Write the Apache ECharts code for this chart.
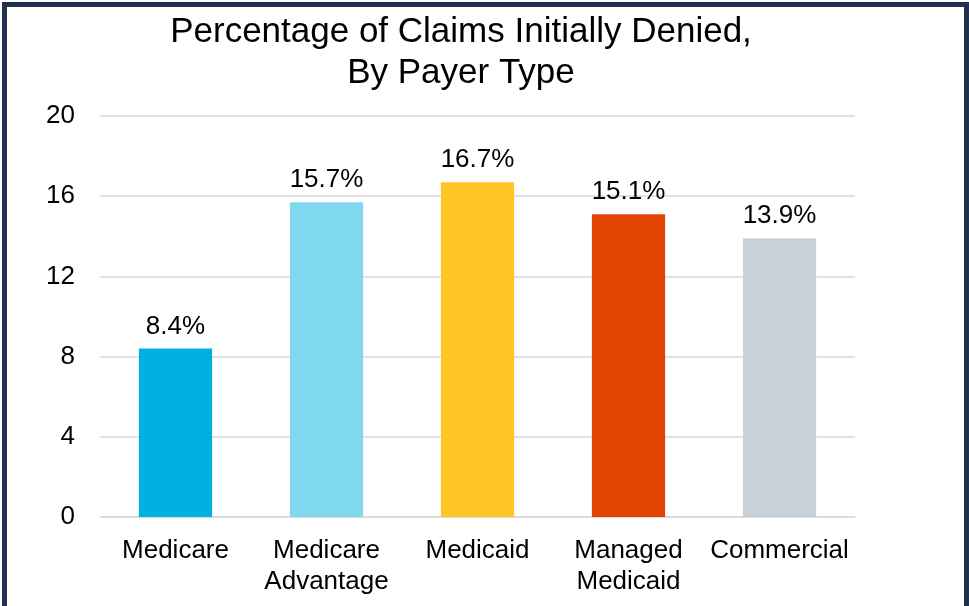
<!DOCTYPE html>
<html><head><meta charset="utf-8">
<script src="https://cdn.jsdelivr.net/npm/echarts@6/dist/echarts.min.js"></script>
<style>
html,body{margin:0;padding:0;background:#fff;}
#frame{position:absolute;left:2px;top:2px;width:957px;height:610px;border:5px solid #1f3050;border-bottom:none;box-sizing:content-box;}
#c{position:absolute;left:0;top:0;width:969px;height:606px;}
</style></head>
<body>
<div id="frame"></div>
<div id="c"></div>
<script>
const categories = ["Medicare", "Medicare\nAdvantage", "Medicaid", "Managed\nMedicaid", "Commercial"];
const values = [8.4, 15.7, 16.7, 15.1, 13.9];
const barColors = ["#00b0e0", "#80d8f0", "#fdc526", "#e24300", "#c9d1d8"];
const titleText = "Percentage of Claims Initially Denied,\nBy Payer Type";

const chart = echarts.init(document.getElementById('c'), null, {renderer:'canvas'});
chart.setOption({
  animation:false,
  title:{text:titleText,left:456,top:7,textAlign:'center',
    textStyle:{fontFamily:'Liberation Sans, Arial',fontSize:35,fontWeight:'normal',color:'#000',lineHeight:41}},
  grid:{left:100,right:114,top:116,bottom:89,containLabel:false},
  xAxis:{type:'category',data:categories,
    axisLine:{lineStyle:{color:'#d9d9d9',width:1.5}},axisTick:{show:false},
    axisLabel:{fontFamily:'Liberation Sans, Arial',fontSize:26,color:'#000',lineHeight:31,margin:18,interval:0}},
  yAxis:{type:'value',min:0,max:20,interval:4,
    axisLine:{show:false},axisTick:{show:false},
    splitLine:{lineStyle:{color:'#d9d9d9',width:1.5}},
    axisLabel:{fontFamily:'Liberation Sans, Arial',fontSize:26,color:'#000',margin:25}},
  series:[{type:'bar',data:values.map((v,i)=>({value:v,itemStyle:{color:barColors[i]}})),
    barWidth:'48.5%',
    label:{show:true,position:'top',distance:9,formatter:p=>p.value.toFixed(1)+'%',
      fontFamily:'Liberation Sans, Arial',fontSize:26,color:'#000'}}]
});
</script>
</body></html>
